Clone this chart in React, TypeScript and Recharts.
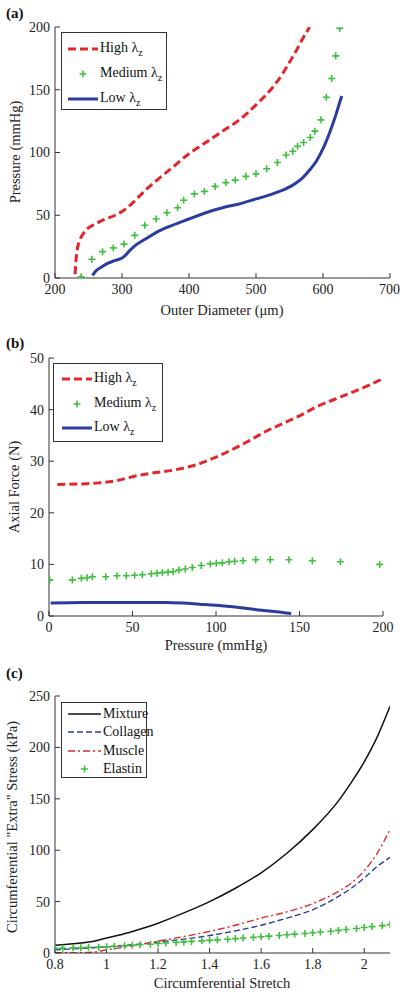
import { Legend, Line, LineChart, XAxis, YAxis } from "recharts";

const RED = "#e3262b";
const GREEN = "#3fbf3f";
const BLUE = "#2b3d9c";
const BLACK = "#111111";
const AXIS = "#333333";
const SERIF = '"Liberation Serif", "Times New Roman", serif';

// (a) pressure vs outer diameter
const aHighDiam = [230, 231, 233, 237, 243, 250, 260, 275, 290, 300, 310, 320, 335, 350, 375, 400, 425, 450, 475, 500, 525, 540, 550, 560, 570, 580];
const aHighPres = [3, 12, 22, 30, 36, 40, 43, 47, 50, 53, 57, 62, 70, 77, 88, 99, 108, 117, 126, 138, 152, 163, 172, 181, 191, 200];
const aMedDiam = [239, 255, 271, 287, 303, 319, 334, 351, 367, 383, 392, 408, 423, 439, 455, 469, 485, 500, 516, 532, 545, 555, 562, 571, 581, 588, 597, 605, 613, 619, 625];
const aMedPres = [1, 15, 21, 24, 27, 34, 42, 47, 52, 56, 62, 67, 69, 73, 76, 78, 81, 83, 87, 92, 98, 101, 105, 108, 112, 117, 126, 144, 159, 177, 199];
const aLowDiam = [256, 260, 270, 280, 290, 300, 305, 310, 320, 335, 350, 375, 400, 425, 450, 475, 500, 525, 540, 555, 570, 580, 590, 600, 610, 618, 625, 628];
const aLowPres = [2, 5, 9, 12, 14, 16, 18, 21, 26, 31, 36, 42, 47, 52, 56, 59, 63, 67, 70, 74, 80, 86, 93, 103, 116, 128, 140, 145];
const aXTicks = [200, 300, 400, 500, 600, 700];
const aYTicks = [0, 50, 100, 150, 200];

// (b) axial force vs pressure
const bHighPres = [5, 20, 30, 40, 50, 60, 75, 90, 100, 110, 120, 130, 140, 150, 160, 175, 190, 200];
const bHighForce = [25.5, 25.6, 25.8, 26.2, 27, 27.6, 28.3, 29.5, 30.8, 32.3, 34, 35.8, 37.3, 38.8, 40.5, 42.5, 44.5, 46];
const bMedPres = [0.4, 14, 19.4, 22.8, 26, 34, 40.7, 46.3, 51.3, 55.9, 61.3, 64.7, 67.9, 71.3, 74.3, 77.8, 81.6, 85.8, 91.2, 96.6, 100.2, 103.8, 107.8, 111.2, 116.2, 123.8, 132.5, 143.7, 157.7, 174.5, 198];
const bMedForce = [7, 7, 7.3, 7.4, 7.6, 7.6, 7.8, 7.8, 7.9, 8, 8.2, 8.3, 8.4, 8.5, 8.6, 8.9, 9.1, 9.4, 9.8, 10.1, 10.2, 10.3, 10.5, 10.6, 10.7, 10.9, 10.9, 10.9, 10.7, 10.5, 10];
const bLowPres = [1, 20, 50, 70, 80, 90, 100, 110, 120, 130, 140, 145];
const bLowForce = [2.5, 2.6, 2.6, 2.6, 2.5, 2.3, 2.1, 1.8, 1.4, 1.0, 0.7, 0.5];
const bXTicks = [0, 50, 100, 150, 200];
const bYTicks = [0, 10, 20, 30, 40, 50];

// (c) circumferential extra stress vs stretch
const cMixStretch = [0.8, 0.85, 0.9, 0.95, 1.0, 1.05, 1.1, 1.2, 1.3, 1.4, 1.5, 1.6, 1.7, 1.8, 1.9, 1.95, 2.0, 2.05, 2.1];
const cMixStress = [7.5, 8.5, 9.7, 11.5, 14.6, 17.5, 21, 29, 39, 50, 63, 78, 97, 120, 148, 166, 186, 210, 240];
const cColStretch = [0.8, 0.9, 1.0, 1.1, 1.2, 1.3, 1.4, 1.5, 1.6, 1.7, 1.8, 1.9, 1.95, 2.0, 2.05, 2.1];
const cColStress = [3, 4.5, 6, 8, 10.5, 13.5, 17, 21.5, 27, 34, 42, 55, 63, 73, 84, 93];
const cMusStretch = [0.8, 0.9, 0.95, 1.0, 1.1, 1.2, 1.3, 1.4, 1.5, 1.6, 1.7, 1.8, 1.9, 1.95, 2.0, 2.05, 2.1];
const cMusStress = [0.3, 0.3, 0.8, 3, 7, 11.5, 16, 21, 27, 34, 40, 48, 60, 68, 80, 97, 120];
const cElaStretch = [0.8, 0.83, 0.87, 0.9, 0.93, 0.97, 1.0, 1.03, 1.07, 1.1, 1.13, 1.17, 1.2, 1.23, 1.27, 1.3, 1.33, 1.37, 1.4, 1.43, 1.47, 1.5, 1.53, 1.57, 1.6, 1.63, 1.67, 1.7, 1.73, 1.77, 1.8, 1.83, 1.87, 1.9, 1.93, 1.97, 2.0, 2.03, 2.07, 2.1];
const cElaStress = [4.5, 4.7, 5, 5.2, 5.5, 5.7, 6, 6.5, 7, 7.5, 8, 8.5, 9.2, 9.7, 10.3, 10.8, 11.3, 11.8, 12.3, 12.8, 13.4, 14, 14.6, 15.2, 15.8, 16.4, 17, 17.7, 18.4, 19, 19.7, 20.4, 21.2, 22, 22.9, 23.8, 24.8, 25.7, 26.6, 27.6];
const cXTicks = [0.8, 1, 1.2, 1.4, 1.6, 1.8, 2];
const cYTicks = [0, 50, 100, 150, 200, 250];

type Pt = { x: number; y: number };
type Series = { name: string; sub?: string; data: Pt[]; kind: "line" | "plus"; color: string; width?: number; dash?: string };

const pairs = (xs: number[], ys: number[]): Pt[] => xs.map((x, i) => ({ x, y: ys[i] }));

const plusDot = (p: any) => {
  if (p.cx == null || p.cy == null) return <g key={p.index} />;
  return <path key={p.index} d={`M${p.cx - 3.5},${p.cy}h7M${p.cx},${p.cy - 3.5}v7`} stroke={GREEN} strokeWidth={1.6} fill="none" />;
};

function Sample({ s, w }: { s: Series; w: number }) {
  return (
    <svg width={w} height={10} style={{ flex: "none" }}>
      {s.kind === "plus" ? (
        <path d={`M${w / 2 - 3.5},5h7M${w / 2},1.5v7`} stroke={GREEN} strokeWidth={1.6} />
      ) : (
        <line x1={0} x2={w} y1={5} y2={5} stroke={s.color} strokeWidth={s.width} strokeDasharray={s.dash} />
      )}
    </svg>
  );
}

type PanelProps = {
  top: number;
  height: number;
  margin: { top: number; right: number; bottom: number; left: number };
  yWidth: number;
  xDomain: [number, number];
  xTicks: number[];
  yDomain: [number, number];
  yTicks: number[];
  series: Series[];
  box: { left: number; top: number; width: number; height: number; padTop: number; padLeft: number; row: number; sample: number };
};

function Panel({ top, height, margin, yWidth, xDomain, xTicks, yDomain, yTicks, series, box }: PanelProps) {
  const tickStyle = { fill: "#222", fontSize: 14, fontFamily: SERIF };
  const legend = () => (
    <div
      style={{
        boxSizing: "border-box",
        width: box.width,
        height: box.height,
        border: `1px solid ${AXIS}`,
        background: "#fff",
        paddingTop: box.padTop,
        paddingLeft: box.padLeft,
        fontFamily: SERIF,
        fontSize: 14,
        color: "#111",
      }}
    >
      {series.map((s) => (
        <div key={s.name} style={{ display: "flex", alignItems: "center", height: box.row, whiteSpace: "nowrap" }}>
          <Sample s={s} w={box.sample} />
          <span style={{ marginLeft: 2 }}>
            {s.name}
            {s.sub && (
              <>
                {" λ"}
                <sub style={{ fontSize: 10 }}>{s.sub}</sub>
              </>
            )}
          </span>
        </div>
      ))}
    </div>
  );
  return (
    <div style={{ position: "absolute", left: 0, top }}>
      <LineChart width={400} height={height} margin={margin}>
        <XAxis type="number" dataKey="x" domain={xDomain} ticks={xTicks} allowDataOverflow height={30} tickSize={-5} tickMargin={11} stroke={AXIS} tick={tickStyle} />
        <XAxis xAxisId="top" orientation="top" type="number" dataKey="x" domain={xDomain} ticks={xTicks} allowDataOverflow height={0} tickSize={-5} tick={false} stroke={AXIS} />
        <YAxis type="number" domain={yDomain} ticks={yTicks} allowDataOverflow width={yWidth} tickSize={-5} tickMargin={10} stroke={AXIS} tick={tickStyle} />
        <YAxis yAxisId="right" orientation="right" type="number" domain={yDomain} ticks={yTicks} allowDataOverflow width={0} tickSize={-5} tick={false} stroke={AXIS} />
        {series.map((s) =>
          s.kind === "plus" ? (
            <Line key={s.name} data={s.data} dataKey="y" name={s.name} stroke="none" dot={plusDot} activeDot={false} isAnimationActive={false} />
          ) : (
            <Line key={s.name} data={s.data} dataKey="y" name={s.name} type="monotone" stroke={s.color} strokeWidth={s.width} strokeDasharray={s.dash} dot={false} activeDot={false} isAnimationActive={false} />
          )
        )}
        <Legend layout="vertical" align="center" verticalAlign="middle" content={legend} wrapperStyle={{ left: box.left, top: box.top, width: box.width, height: box.height }} />
      </LineChart>
    </div>
  );
}

const label: React.CSSProperties = { position: "absolute", fontFamily: SERIF, fontSize: 14.5, color: "#222", whiteSpace: "nowrap" };

function XLabel({ text, cx, cy }: { text: string; cx: number; cy: number }) {
  return <div style={{ ...label, left: cx, top: cy, transform: "translate(-50%, -50%)" }}>{text}</div>;
}

function YLabel({ text, cx, cy }: { text: string; cx: number; cy: number }) {
  return <div style={{ ...label, left: cx, top: cy, transform: "translate(-50%, -50%) rotate(-90deg)" }}>{text}</div>;
}

function Tag({ text, top }: { text: string; top: number }) {
  return <div style={{ ...label, left: 6, top, fontWeight: "bold", fontSize: 15, color: "#111" }}>{text}</div>;
}

export default function App() {
  const seriesA: Series[] = [
    { name: "High", sub: "z", data: pairs(aHighDiam, aHighPres), kind: "line", color: RED, width: 3, dash: "8 4" },
    { name: "Medium", sub: "z", data: pairs(aMedDiam, aMedPres), kind: "plus", color: GREEN },
    { name: "Low", sub: "z", data: pairs(aLowDiam, aLowPres), kind: "line", color: BLUE, width: 3 },
  ];
  const seriesB: Series[] = [
    { name: "High", sub: "z", data: pairs(bHighPres, bHighForce), kind: "line", color: RED, width: 3, dash: "8 4" },
    { name: "Medium", sub: "z", data: pairs(bMedPres, bMedForce), kind: "plus", color: GREEN },
    { name: "Low", sub: "z", data: pairs(bLowPres, bLowForce), kind: "line", color: BLUE, width: 3 },
  ];
  const seriesC: Series[] = [
    { name: "Mixture", data: pairs(cMixStretch, cMixStress), kind: "line", color: BLACK, width: 1.5 },
    { name: "Collagen", data: pairs(cColStretch, cColStress), kind: "line", color: BLUE, width: 1.4, dash: "6 3" },
    { name: "Muscle", data: pairs(cMusStretch, cMusStress), kind: "line", color: RED, width: 1.4, dash: "7 3 2 3" },
    { name: "Elastin", data: pairs(cElaStretch, cElaStress), kind: "plus", color: GREEN },
  ];

  return (
    <div style={{ position: "absolute", left: 0, top: 0, width: 400, height: 996, background: "#fff" }}>
      <Panel
        top={0}
        height={330}
        margin={{ top: 27, right: 10, bottom: 22, left: 0 }}
        yWidth={55}
        xDomain={[200, 700]}
        xTicks={aXTicks}
        yDomain={[0, 200]}
        yTicks={aYTicks}
        series={seriesA}
        box={{ left: 61, top: 32, width: 106, height: 78, padTop: 3, padLeft: 6, row: 25, sample: 30 }}
      />
      <Panel
        top={330}
        height={330}
        margin={{ top: 28, right: 17, bottom: 14, left: 0 }}
        yWidth={49}
        xDomain={[0, 200]}
        xTicks={bXTicks}
        yDomain={[0, 50]}
        yTicks={bYTicks}
        series={seriesB}
        box={{ left: 53, top: 33, width: 110, height: 79, padTop: 3, padLeft: 8, row: 24.5, sample: 30 }}
      />
      <Panel
        top={660}
        height={336}
        margin={{ top: 36, right: 10, bottom: 13, left: 0 }}
        yWidth={55}
        xDomain={[0.8, 2.1]}
        xTicks={cXTicks}
        yDomain={[0, 250]}
        yTicks={cYTicks}
        series={seriesC}
        box={{ left: 61, top: 42, width: 86, height: 76, padTop: 1.5, padLeft: 6, row: 18.5, sample: 33 }}
      />
      <Tag text="(a)" top={5} />
      <Tag text="(b)" top={335} />
      <Tag text="(c)" top={665} />
      <XLabel text="Outer Diameter (μm)" cx={222} cy={310} />
      <YLabel text="Pressure (mmHg)" cx={15} cy={152} />
      <XLabel text="Pressure (mmHg)" cx={216} cy={645} />
      <YLabel text="Axial Force (N)" cx={14} cy={487} />
      <XLabel text="Circumferential Stretch" cx={222} cy={983} />
      <YLabel text={'Circumferential "Extra" Stress (kPa)'} cx={12} cy={827} />
    </div>
  );
}
